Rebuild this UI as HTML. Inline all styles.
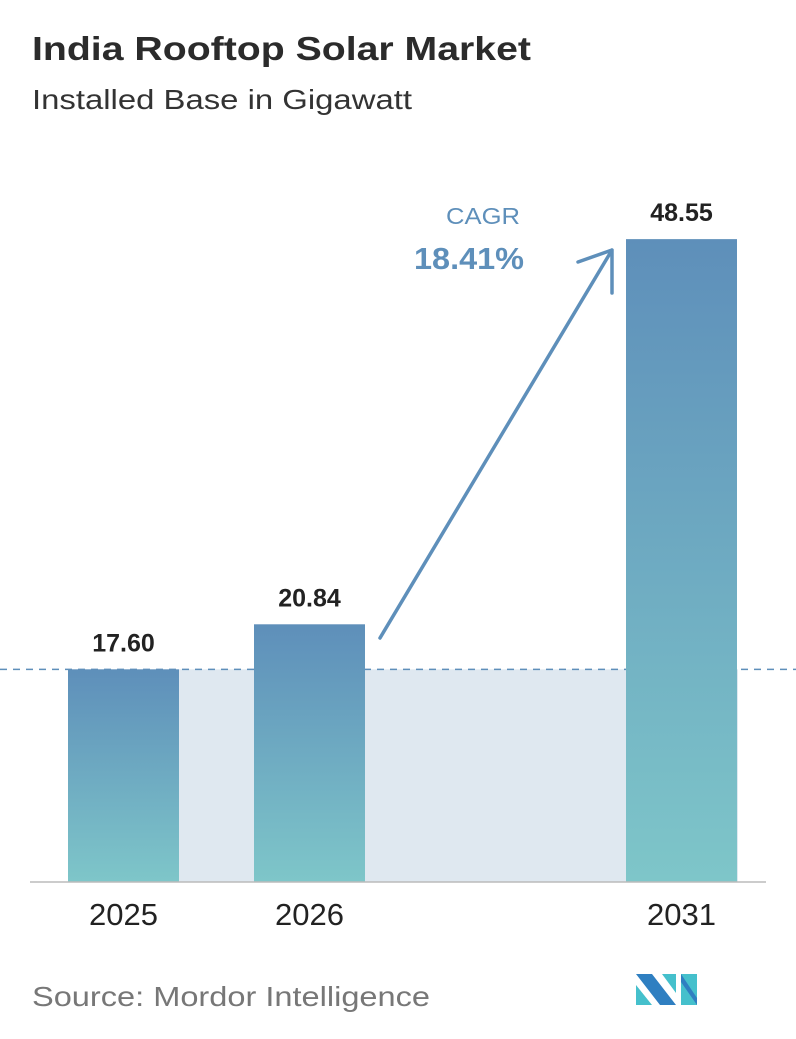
<!DOCTYPE html>
<html><head><meta charset="utf-8"><style>
body{margin:0;background:#fff;width:796px;height:1034px;overflow:hidden;font-family:"Liberation Sans",sans-serif}
</style></head><body>
<svg width="796" height="1034" viewBox="0 0 796 1034">
<defs><linearGradient id="g" x1="0" y1="0" x2="0" y2="1"><stop offset="0" stop-color="#5e8fba"/><stop offset="1" stop-color="#7ec6c9"/></linearGradient></defs>
<text x="32" y="60" font-size="33" font-weight="bold" fill="#2b2b2b" textLength="499" lengthAdjust="spacingAndGlyphs">India Rooftop Solar Market</text>
<text x="32" y="109" font-size="28" fill="#333" textLength="380" lengthAdjust="spacingAndGlyphs">Installed Base in Gigawatt</text>
<g id="plot"></g>
<text x="446" y="224" font-size="23" fill="#5e8fba" textLength="74" lengthAdjust="spacingAndGlyphs">CAGR</text>
<text x="414" y="269" font-size="31" font-weight="bold" fill="#5e8fba" textLength="110" lengthAdjust="spacingAndGlyphs">18.41%</text>
<text x="32" y="1006" font-size="28" fill="#777" textLength="398" lengthAdjust="spacingAndGlyphs">Source:  Mordor Intelligence</text>
<g>
<polygon points="636,974 652,974 676,1005 660,1005" fill="#2f7fc1"/>
<polygon points="636,985 652,1005 636,1005" fill="#45c0cc"/>
<polygon points="662,974 676,974 676,993" fill="#45c0cc"/>
<polygon points="681,974 697,974 697,1005 681,1005" fill="#45c0cc"/>
<polygon points="681,974 697,998 697,1005 681,982" fill="#2f7fc1"/>
</g>
</svg>
<script>
const categories=["2025","2026","2031"];
const values=[17.60,20.84,48.55];
const labels=["17.60","20.84","48.55"];
const NS="http://www.w3.org/2000/svg";
const plot=document.getElementById("plot");
const base=882,a=13.9,v0=2.3;
function y(v){return base-a*(v-v0);}
const xs=[68,254,626],bw=111;
function mk(t,at){const e=document.createElementNS(NS,t);for(const k in at)e.setAttribute(k,at[k]);plot.appendChild(e);return e;}
const y0=y(values[0]);
const band=mk("rect",{x:68,y:y0,width:738-68,height:base-y0,fill:"#dfe8f0"});


const dl=mk("line",{x1:0,x2:796,y1:y0,y2:y0,stroke:"#5e8fba","stroke-width":1.5,"stroke-dasharray":"7,6"});


values.forEach((v,i)=>{
 const r=mk("rect",{x:xs[i],y:y(v),width:bw,height:base-y(v),fill:"url(#g)"});
 
 
 const t=mk("text",{x:xs[i]+bw/2,y:y(v)-18,"text-anchor":"middle","font-size":25,"font-weight":"bold",fill:"#222"});
 t.textContent=labels[i];
 
 
 const c=mk("text",{x:xs[i]+bw/2,y:925,"text-anchor":"middle","font-size":31,fill:"#222"});
 c.textContent=categories[i];
 
 
});
const ax=mk("line",{x1:30,x2:766,y1:base,y2:base,stroke:"#bbb","stroke-width":1.5});


const ar=mk("path",{d:"M380,638 L612,250 M578,262 L612,250 L612,293",stroke:"#5e8fba","stroke-width":3.5,fill:"none","stroke-linecap":"round","stroke-linejoin":"round"});


</script>
</body></html>
